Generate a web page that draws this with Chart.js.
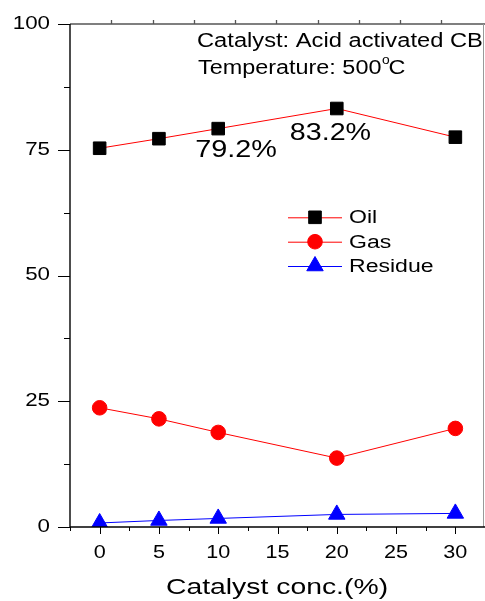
<!DOCTYPE html>
<html>
<head>
<meta charset="utf-8">
<title>Catalyst concentration vs product yield</title>
<script src="https://cdn.jsdelivr.net/npm/chart.js@4.4.1/dist/chart.umd.min.js"></script>
<style>
  html, body { margin: 0; padding: 0; background: #ffffff; }
  #wrap { width: 485px; height: 601px; }
</style>
</head>
<body>
<div id="wrap"><canvas id="c" width="485" height="601"></canvas></div>
<script>
// Catalyst concentration (%) and product yields (wt%)
const catalystConc = [0, 5, 10, 20, 30];
const oilYield = [75.3, 77.2, 79.2, 83.2, 77.5];
const gasYield = [23.7, 21.5, 18.8, 13.7, 19.6];
const residueYield = [0.8, 1.3, 1.7, 2.5, 2.7];

const xMajorTicks = [0, 5, 10, 15, 20, 25, 30];
const xMinorTicks = [-2.5, 2.5, 7.5, 12.5, 17.5, 22.5, 27.5, 32.5];
const yMajorTicks = [0, 25, 50, 75, 100];
const yMinorTicks = [12.5, 37.5, 62.5, 87.5];

const seriesNames = ['Oil', 'Gas', 'Residue'];
const FONT = '"Liberation Sans", Arial, sans-serif';

function pts(ys) { return catalystConc.map((x, i) => ({ x: x, y: ys[i] })); }

// text drawn slightly widened horizontally
function wideText(ctx, text, x, y, size, align, sx, baseline) {
  ctx.save();
  ctx.font = size + 'px ' + FONT;
  ctx.fillStyle = '#000';
  ctx.textBaseline = baseline || 'alphabetic';
  ctx.translate(x, y);
  ctx.scale(sx, 1);
  ctx.textAlign = align;
  ctx.fillText(text, 0, 0);
  ctx.restore();
}

function textWidth(ctx, text, size, sx) {
  ctx.save();
  ctx.font = size + 'px ' + FONT;
  const w = ctx.measureText(text).width * sx;
  ctx.restore();
  return w;
}

function marker(ctx, style, x, y, color) {
  ctx.save();
  ctx.fillStyle = color;
  ctx.strokeStyle = color;
  ctx.lineWidth = 1;
  ctx.beginPath();
  if (style === 'rect') {
    ctx.rect(x - 6.3, y - 6.3, 12.6, 12.6);
  } else if (style === 'circle') {
    ctx.arc(x, y, 7.3, 0, Math.PI * 2);
  } else {
    const r = 9.5;
    ctx.moveTo(x, y - r);
    ctx.lineTo(x + r * Math.sin(Math.PI / 3), y + r / 2);
    ctx.lineTo(x - r * Math.sin(Math.PI / 3), y + r / 2);
    ctx.closePath();
  }
  ctx.fill();
  ctx.stroke();
  ctx.restore();
}

const framePlugin = {
  id: 'frame',
  afterDraw(chart) {
    const ctx = chart.ctx;
    const xs = chart.scales.x, ys = chart.scales.y;
    const a = chart.chartArea;
    const rightEdge = a.right - 1;
    ctx.save();
    // top and right border
    ctx.strokeStyle = '#555';
    ctx.lineWidth = 1.3;
    ctx.beginPath();
    ctx.moveTo(a.left, a.top); ctx.lineTo(a.right, a.top);
    ctx.stroke();
    for (let i = 1; i < 10; i++) {
      const px = Math.round(xs.getPixelForValue(-2.5 + i * 3.48)) + 0.5;
      ctx.beginPath(); ctx.moveTo(px, a.top); ctx.lineTo(px, a.top - 4); ctx.stroke();
    }
    ctx.strokeStyle = '#9a9a9a';
    ctx.lineWidth = 1;
    ctx.beginPath();
    ctx.moveTo(rightEdge - 0.5, a.top); ctx.lineTo(rightEdge - 0.5, a.bottom);
    ctx.stroke();

    // left axis
    ctx.strokeStyle = '#000';
    ctx.lineWidth = 1.4;
    ctx.beginPath();
    ctx.moveTo(a.left, a.top); ctx.lineTo(a.left, a.bottom);
    ctx.stroke();
    ctx.lineWidth = 1;
    yMajorTicks.forEach(v => {
      const py = Math.round(ys.getPixelForValue(v)) + 0.5;
      ctx.beginPath(); ctx.moveTo(a.left - 12, py); ctx.lineTo(a.left, py); ctx.stroke();
      wideText(ctx, String(v), a.left - 20, ys.getPixelForValue(v), 18, 'right', 1.24, 'middle');
    });
    yMinorTicks.forEach(v => {
      const py = Math.round(ys.getPixelForValue(v)) + 0.5;
      ctx.beginPath(); ctx.moveTo(a.left - 6, py); ctx.lineTo(a.left, py); ctx.stroke();
    });

    // bottom axis
    ctx.lineWidth = 1.4;
    ctx.beginPath();
    ctx.moveTo(a.left, a.bottom); ctx.lineTo(a.right, a.bottom);
    ctx.stroke();
    ctx.lineWidth = 1;
    xMajorTicks.forEach(v => {
      const px = Math.round(xs.getPixelForValue(v)) + 0.5;
      ctx.beginPath(); ctx.moveTo(px, a.bottom); ctx.lineTo(px, a.bottom + 7); ctx.stroke();
      wideText(ctx, String(v), xs.getPixelForValue(v), a.bottom + 26, 18, 'center', 1.2, 'middle');
    });
    xMinorTicks.forEach(v => {
      const px = Math.round(xs.getPixelForValue(v)) + 0.5;
      ctx.beginPath(); ctx.moveTo(px, a.bottom); ctx.lineTo(px, a.bottom + 4); ctx.stroke();
    });
    wideText(ctx, 'Catalyst conc.(%)', 277, a.bottom + 67, 22.5, 'center', 1.26);

    // condition notes
    wideText(ctx, 'Catalyst: Acid activated CB', 197, 47, 20, 'left', 1.185);
    const tW = textWidth(ctx, 'Temperature: 500', 20, 1.17);
    wideText(ctx, 'Temperature: 500', 198, 74, 20, 'left', 1.17);
    wideText(ctx, 'o', 198 + tW + 0.5, 64, 12, 'left', 1.15);
    wideText(ctx, 'C', 198 + tW + 7, 74, 20, 'left', 1.17);

    // value labels
    wideText(ctx, oilYield[2].toFixed(1) + '%', xs.getPixelForValue(10) - 23, 157, 24, 'left', 1.2);
    wideText(ctx, oilYield[3].toFixed(1) + '%', xs.getPixelForValue(20) - 47, 139.5, 23.5, 'left', 1.22);

    // legend
    const legendRows = [
      { name: seriesNames[0], line: '#ff0000', style: 'rect', fill: '#000000', y: 217.3 },
      { name: seriesNames[1], line: '#ff0000', style: 'circle', fill: '#ff0000', y: 241.7 },
      { name: seriesNames[2], line: '#0000ff', style: 'triangle', fill: '#0000ff', y: 266 }
    ];
    legendRows.forEach(r => {
      ctx.strokeStyle = r.line;
      ctx.lineWidth = 1;
      ctx.beginPath(); ctx.moveTo(288, r.y + 0.5); ctx.lineTo(342, r.y + 0.5); ctx.stroke();
      marker(ctx, r.style, 315, r.y, r.fill);
      wideText(ctx, r.name, 349, r.y + 1, 18, 'left', 1.28, 'middle');
    });
    ctx.restore();
  }
};

new Chart(document.getElementById('c'), {
  type: 'line',
  data: {
    datasets: [
      {
        label: seriesNames[0], data: pts(oilYield),
        borderColor: '#ff0000', borderWidth: 1,
        pointStyle: 'rect', pointRadius: 8.9,
        pointBackgroundColor: '#000000', pointBorderColor: '#000000', pointBorderWidth: 1,
        tension: 0
      },
      {
        label: seriesNames[1], data: pts(gasYield),
        borderColor: '#ff0000', borderWidth: 1,
        pointStyle: 'circle', pointRadius: 7.3,
        pointBackgroundColor: '#ff0000', pointBorderColor: '#ff0000', pointBorderWidth: 1,
        tension: 0
      },
      {
        label: seriesNames[2], data: pts(residueYield),
        borderColor: '#0000ff', borderWidth: 1,
        pointStyle: 'triangle', pointRadius: 9.5,
        pointBackgroundColor: '#0000ff', pointBorderColor: '#0000ff', pointBorderWidth: 1,
        tension: 0
      }
    ]
  },
  options: {
    responsive: false,
    animation: false,
    devicePixelRatio: 1,
    layout: { autoPadding: false, padding: { top: 24, right: 0, left: 0, bottom: 0 } },
    plugins: { legend: { display: false }, tooltip: { enabled: false } },
    elements: { line: { fill: false } },
    scales: {
      x: {
        type: 'linear', min: -2.5, max: 32.5,
        grid: { display: false }, border: { display: false },
        ticks: { display: false },
        afterFit(s) { s.height = 74; }
      },
      y: {
        type: 'linear', min: 0, max: 100,
        grid: { display: false }, border: { display: false },
        ticks: { display: false },
        afterFit(s) { s.width = 70; }
      }
    }
  },
  plugins: [framePlugin]
});
</script>
</body>
</html>
